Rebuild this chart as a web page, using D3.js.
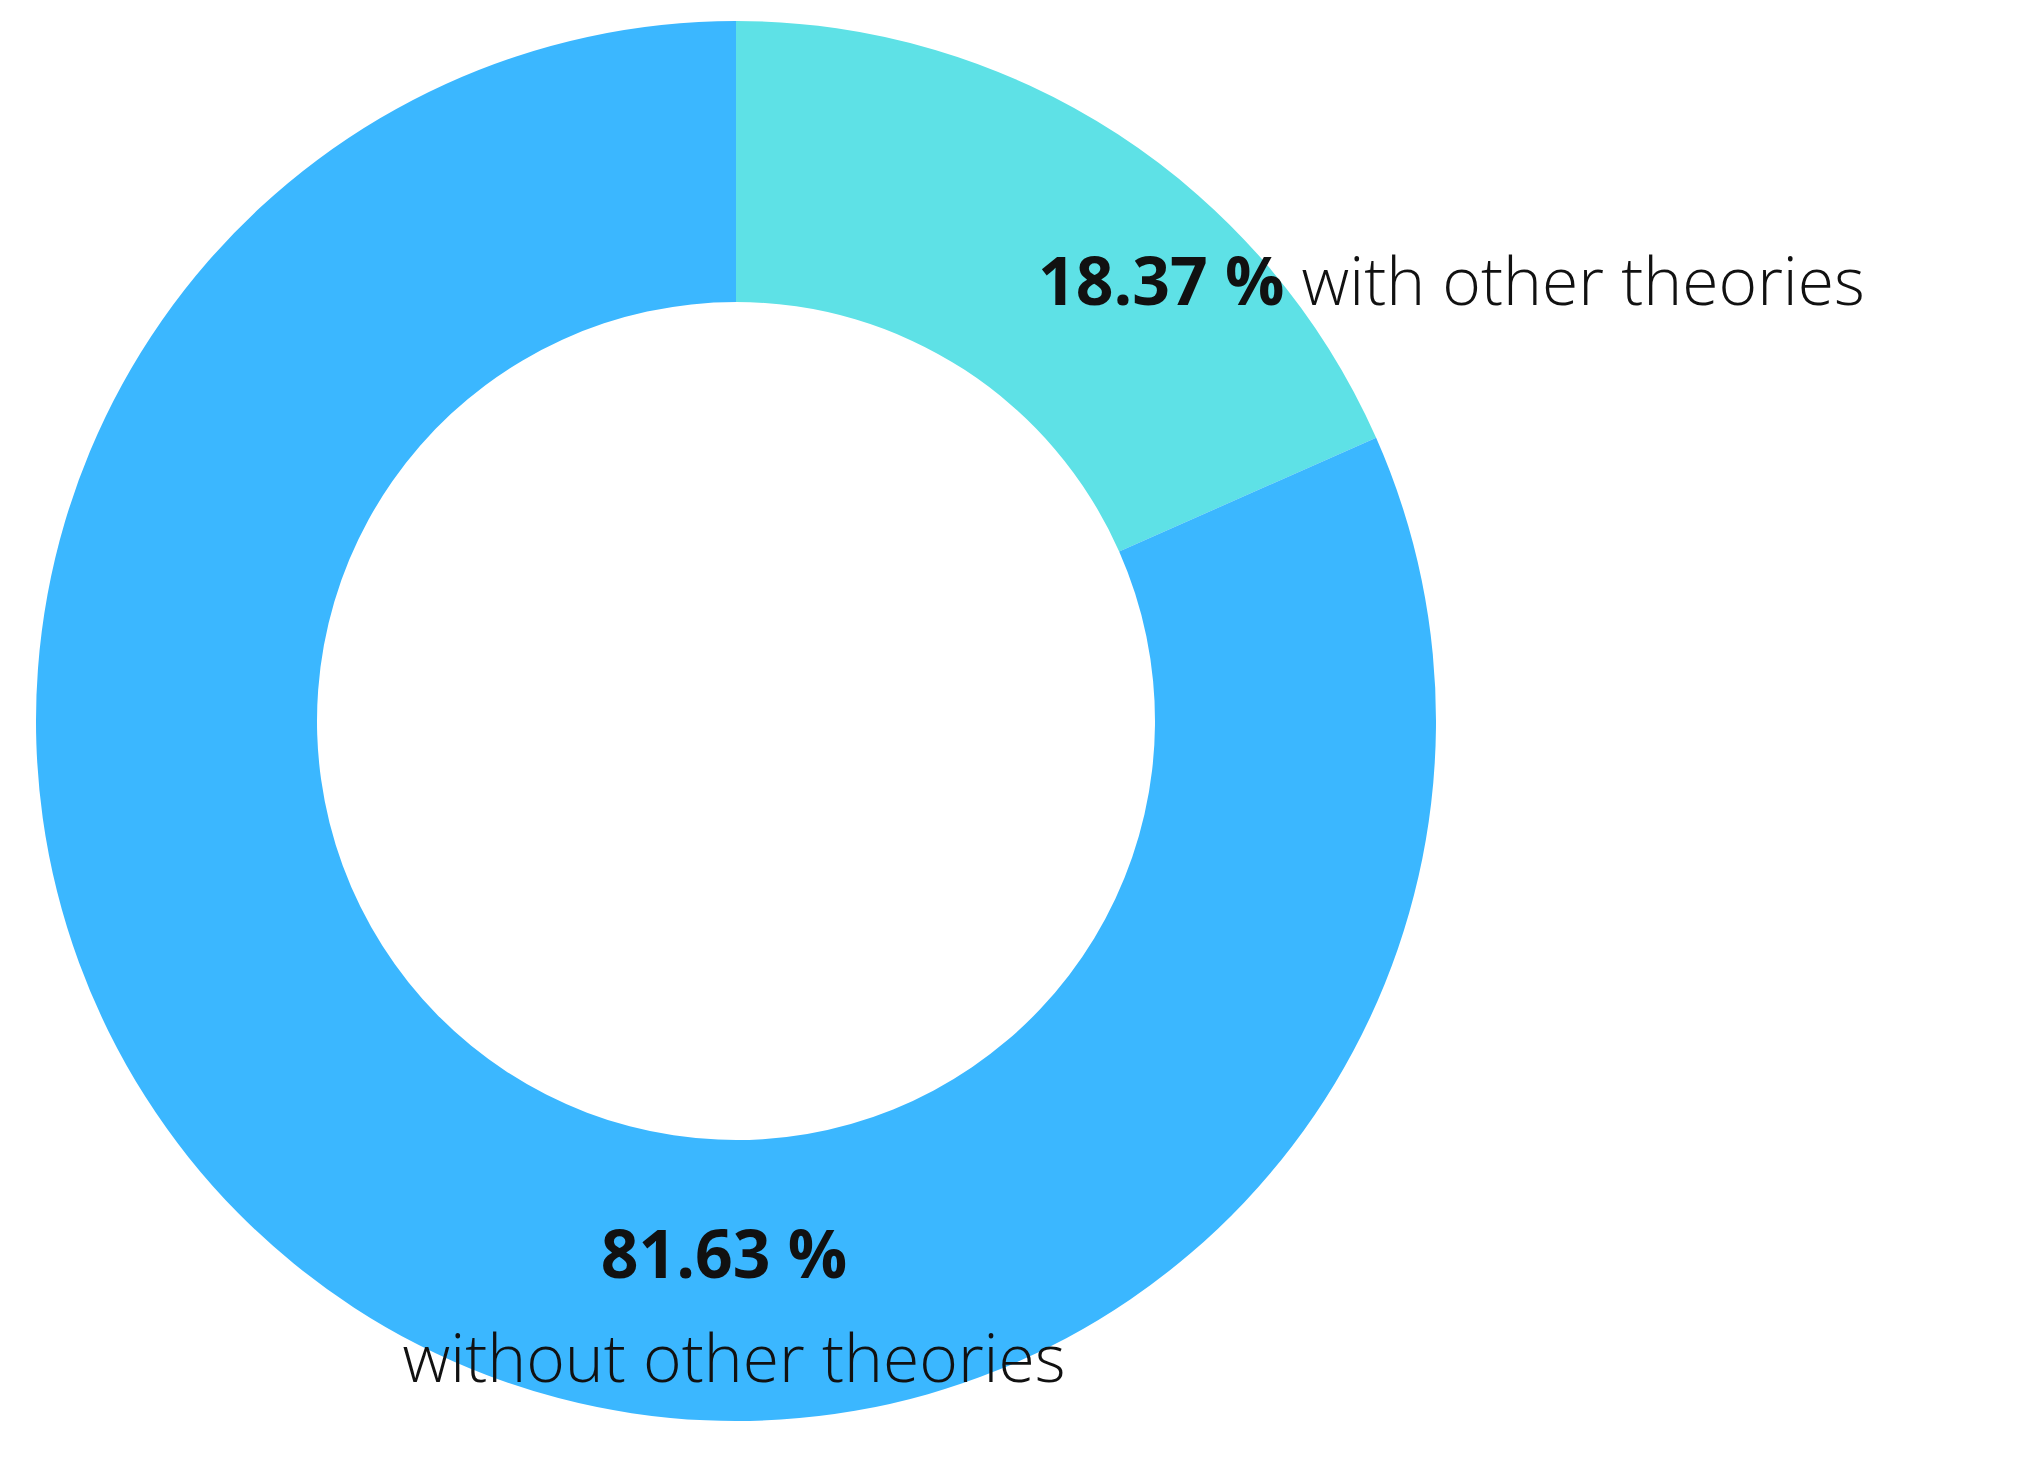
<!DOCTYPE html>
<html>
<head>
<meta charset="utf-8">
<script src="https://cdn.jsdelivr.net/npm/d3@7"></script>
<style>
  body { margin: 0; background: #fff; }
  text { font-family: "Open Sans", sans-serif; fill: #111; }
</style>
</head>
<body>
<svg id="chart" width="2024" height="1457"></svg>
<script>
// slice data, clockwise from 12 o'clock
var labels = ["with other theories", "without other theories"];
var values = [18.37, 81.63];
var colors = ["#5ee1e6", "#3bb7ff"];

var width = 2024, height = 1457;
var cx = 736, cy = 721;
var outerR = 700, innerR = 419;

var svg = d3.select("#chart");
var g = svg.append("g").attr("transform", "translate(" + cx + "," + cy + ")");

var pie = d3.pie().sort(null).value(function (d) { return d; });
var arc = d3.arc().innerRadius(innerR).outerRadius(outerR);

g.selectAll("path")
  .data(pie(values))
  .enter().append("path")
  .attr("d", arc)
  .attr("fill", function (d, i) { return colors[i]; });

// label for the small slice, one line
var t1 = svg.append("text")
  .attr("x", 1038).attr("y", 305)
  .attr("font-size", 66);
t1.append("tspan").attr("font-weight", 700).text(values[0].toFixed(2) + " %");
t1.append("tspan").attr("font-weight", 300).text(" " + labels[0]);

// label for the big slice, two lines centered
svg.append("text")
  .attr("x", 724).attr("y", 1278)
  .attr("text-anchor", "middle")
  .attr("font-size", 66).attr("font-weight", 700)
  .text(values[1].toFixed(2) + " %");
svg.append("text")
  .attr("x", 734).attr("y", 1382)
  .attr("text-anchor", "middle")
  .attr("font-size", 66).attr("font-weight", 300)
  .text(labels[1]);
</script>
</body>
</html>
